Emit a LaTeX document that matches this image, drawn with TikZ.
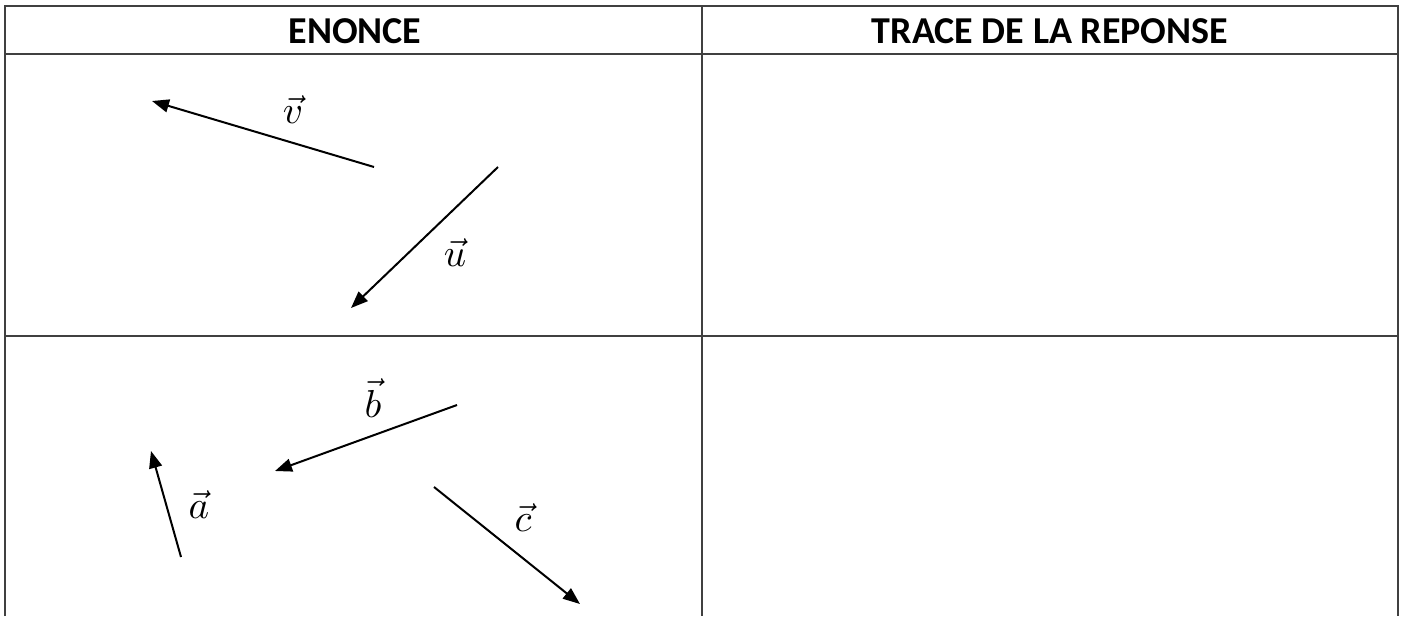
\documentclass[tikz,border=0pt]{standalone}
\usepackage{graphicx}
\usepackage{fontspec}
\newfontfamily\hdrfont{Carlito}
\usetikzlibrary{arrows.meta}
\newcommand{\biglbl}[1]{\scalebox{3.9}{$\vec{#1}$}}
\begin{document}
\begin{tikzpicture}[x=1pt,y=-1pt,
  gridline/.style={draw=black!75,line width=2pt},
  vec/.style={draw=black,line width=2pt,-{Triangle[length=17pt,width=13pt]}},
  hdr/.style={font=\hdrfont\bfseries\fontsize{38}{42}\selectfont,inner sep=0pt},
  lbl/.style={inner sep=0pt}]
\useasboundingbox[fill=white] (0,0) rectangle (1404,616);
% table
\coordinate (tl) at (5,6);
\coordinate (tr) at (1398,6);
\coordinate (hl) at (5,54);
\coordinate (hr) at (1398,54);
\coordinate (ml) at (5,336);
\coordinate (mr) at (1398,336);
\coordinate (bl) at (5,616);
\coordinate (br) at (1398,616);
\coordinate (ct) at (702,6);
\coordinate (cb) at (702,616);
\draw[gridline] (bl) -- (tl) -- (tr) -- (br);
\draw[gridline] (hl) -- (hr);
\draw[gridline] (ml) -- (mr);
\draw[gridline] (ct) -- (cb);
% headers
\node[hdr] (h1) at (355,31) {ENONCE};
\node[hdr] (h2) at (1050,31) {TRACE DE LA REPONSE};
% vectors, first row
\coordinate (v0) at (374,167);
\coordinate (v1) at (152,101);
\draw[vec] (v0) -- (v1);
\node[lbl] (lv) at (293,110) {\biglbl{v}};
\coordinate (u0) at (498,167);
\coordinate (u1) at (351,308);
\draw[vec] (u0) -- (u1);
\node[lbl] (lu) at (455,253) {\biglbl{u}};
% vectors, second row
\coordinate (b0) at (457,405);
\coordinate (b1) at (275,471);
\draw[vec] (b0) -- (b1);
\node[lbl] (lb) at (373,398) {\biglbl{b}};
\coordinate (a0) at (181,557);
\coordinate (a1) at (151,451);
\draw[vec] (a0) -- (a1);
\node[lbl] (la) at (199,505) {\biglbl{a}};
\coordinate (c0) at (434,487);
\coordinate (c1) at (580,604);
\draw[vec] (c0) -- (c1);
\node[lbl] (lc) at (523,518) {\biglbl{c}};
\end{tikzpicture}
\end{document}
